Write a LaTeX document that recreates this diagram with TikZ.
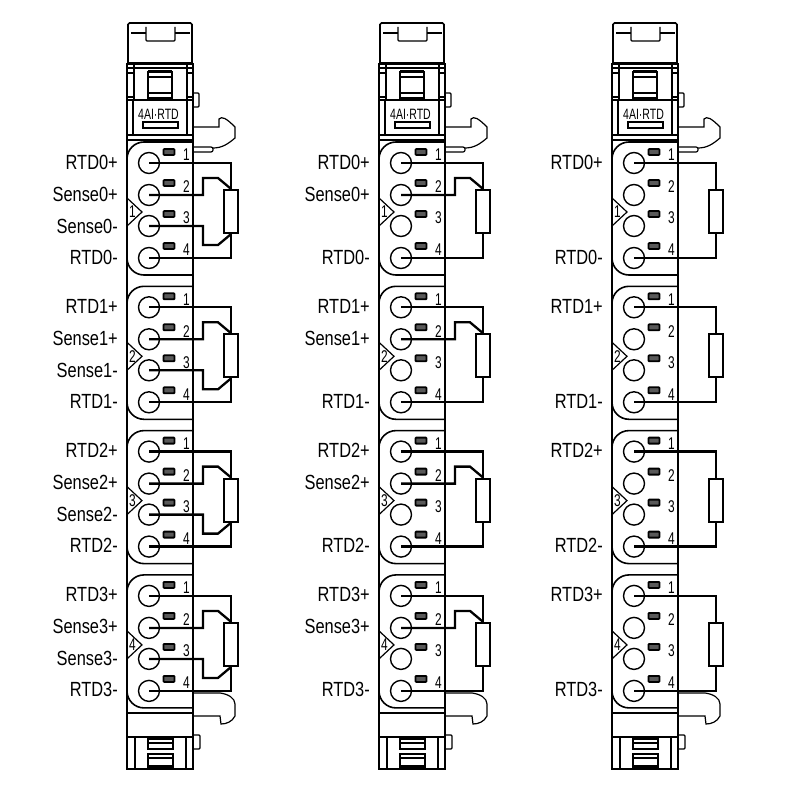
\documentclass[tikz,border=0pt]{standalone}
\usepackage{fontspec}
\setmainfont{Liberation Sans}
\newfontfamily\narrowfont[FakeStretch=0.8]{Liberation Sans}
\newfontfamily\digitfont[FakeStretch=0.7]{Liberation Sans}
\usetikzlibrary{positioning}
\tikzset{
    body/.style={line width=1.6pt},
    fine/.style={line width=1.2pt},
    wire/.style={line width=2.3pt, line join=miter},
    pin/.style={draw, circle, line width=1.4pt, minimum size=21pt, inner sep=0pt},
    res/.style={draw, line width=2.2pt, minimum width=14pt, minimum height=43pt, inner sep=0pt, fill=white},
    led/.style={draw, line width=1.8pt, fill=black!65, rounded corners=0.8pt, minimum width=11pt, minimum height=6pt, inner sep=0pt},
    signal/.style={anchor=east, inner sep=0pt, font=\narrowfont\fontsize{20.5}{22}\selectfont},
    pinno/.style={inner sep=0pt, font=\digitfont\fontsize{17}{19}\selectfont},
}
% housing of one module, without the four connector groups
\newcommand{\modulebody}{
    \draw[body, rounded corners=1.5pt] (128,63) -- (128,23) -- (192,23) -- (192,63);
    \draw[fine] (131,33) -- (146,33) (175,33) -- (190,33);
    \draw[fine, rounded corners=1pt] (146,27) -- (146,41) -- (175,41) -- (175,27);
    \draw[line width=2.4pt] (127,63.5) -- (193,63.5);
    \draw[body] (127,63) -- (127,769) -- (193,769) -- (193,63);
    \draw[fine] (127,68) -- (134,68) (127,73) -- (134,73) (186,68) -- (193,68) (186,73) -- (193,73);
    \draw[fine] (127,97) -- (134,97) (186,97) -- (193,97);
    \draw[fine] (134,64) -- (134,100) (187,64) -- (187,100);
    \draw[fine] (134,68) -- (187,68);
    \draw[fine] (148,72) rectangle (172,98) (148,77) -- (172,77) (148,93) -- (172,93);
    \draw[line width=2.4pt] (148,71.5) -- (172,71.5);
    \draw[line width=2pt] (127,100) -- (193,100);
    \draw[fine] (133,100) -- (133,135) (187,100) -- (187,135);
    \draw[fine] (143,122) rectangle (178,128);
    \draw[body] (127,135) -- (193,135);
    \draw[fine] (127,140) -- (193,140);
    \node[inner sep=0pt, font=\digitfont\fontsize{15}{17}\selectfont] (typelabel) at (158.5,114) {4AI·RTD};
    \draw[fine, rounded corners=1pt] (193,93) -- (199,93) -- (199,107) -- (193,107);
    % upper latch
    \draw[fine] (193,127) -- (219,127) -- (219,119) .. controls (222,116) and (226,118) .. (235,127) -- (235,138) .. controls (228,144) and (222,148) .. (213,148);
    \draw[fine, rounded corners=2pt] (193,147) -- (213,147) -- (213,152) -- (193,152);
    % lower latch
    \draw[fine] (193,693) -- (220,693) .. controls (228,694) and (235,698) .. (235,704) -- (235,716) .. controls (232,722) and (226,724) .. (221,724) -- (220,716) -- (193,716);
    \draw[fine] (127,713) -- (193,713);
    \draw[fine] (127,737) -- (193,737);
    \draw[fine] (135,737) -- (135,769) (186,737) -- (186,769);
    \draw[fine] (148,739) rectangle (173,749) (148,743) -- (173,743);
    \draw[fine] (148,754) rectangle (173,767) (148,758) -- (173,758);
    \draw[line width=1.8pt] (148,766) -- (173,766);
    \draw[fine, rounded corners=1pt] (193,735) -- (200,735) -- (200,749) -- (193,749);
}
\begin{document}
\begin{tikzpicture}[x=1pt, y=-1pt]
    \useasboundingbox (0,0) rectangle (800,800);
    \foreach \m/\mx in {0/0, 1/252, 2/485} {
        \begin{scope}[shift={(\mx,0)}]
            \modulebody
            \foreach \g [evaluate=\g as \gy using 144.3*\g, evaluate=\g as \gn using int(\g+1)] in {0,1,2,3} {
                \begin{scope}[shift={(0,\gy)}]
                    \draw[body, rounded corners=17pt] (193,142) -- (127,142) -- (127,275) -- (193,275);
                    \draw[fine] (127,198) -- (142,212) -- (127,226);
                    \draw (132.5,212) node[pinno] (tag\m\g) {\gn};
                    \node[pin] (pa\m\g) at (149,163) {};
                    \node[pin] (pb\m\g) at (149,195) {};
                    \node[pin] (pc\m\g) at (149,226) {};
                    \node[pin] (pd\m\g) at (149,258) {};
                    \node[led] (la\m\g) at (169,152) {};
                    \node[led] (lb\m\g) at (169,183) {};
                    \node[led] (lc\m\g) at (169,214) {};
                    \node[led] (ld\m\g) at (169,246) {};
                    \node[pinno] (na\m\g) at (186.5,155) {1};
                    \node[pinno] (nb\m\g) at (186.5,187) {2};
                    \node[pinno] (nc\m\g) at (186.5,218) {3};
                    \node[pinno] (nd\m\g) at (186.5,250) {4};
                    \node[res] (r\m\g) at (231,211.5) {};
                    \draw[wire] (pa\m\g.center) -| (r\m\g.north);
                    \draw[wire] (pd\m\g.center) -| (r\m\g.south);
                    \ifnum\m<2
                        \draw[wire] (pb\m\g.center) -- (203,195) -- (203,178) -- (218,178) -- (r\m\g.north);
                    \fi
                    \ifnum\m<1
                        \draw[wire] (pc\m\g.center) -- (203,226) -- (203,245) -- (218,245) -- (r\m\g.south);
                    \fi
                    \node[signal] (sa\m\g) at (118,162) {RTD\g+};
                    \node[signal] (sd\m\g) at (118,257) {RTD\g-};
                    \ifnum\m<2
                        \node[signal] (sb\m\g) at (118,194) {Sense\g+};
                    \fi
                    \ifnum\m<1
                        \node[signal] (sc\m\g) at (118,226) {Sense\g-};
                    \fi
                \end{scope}
            }
        \end{scope}
    }
\end{tikzpicture}
\end{document}
